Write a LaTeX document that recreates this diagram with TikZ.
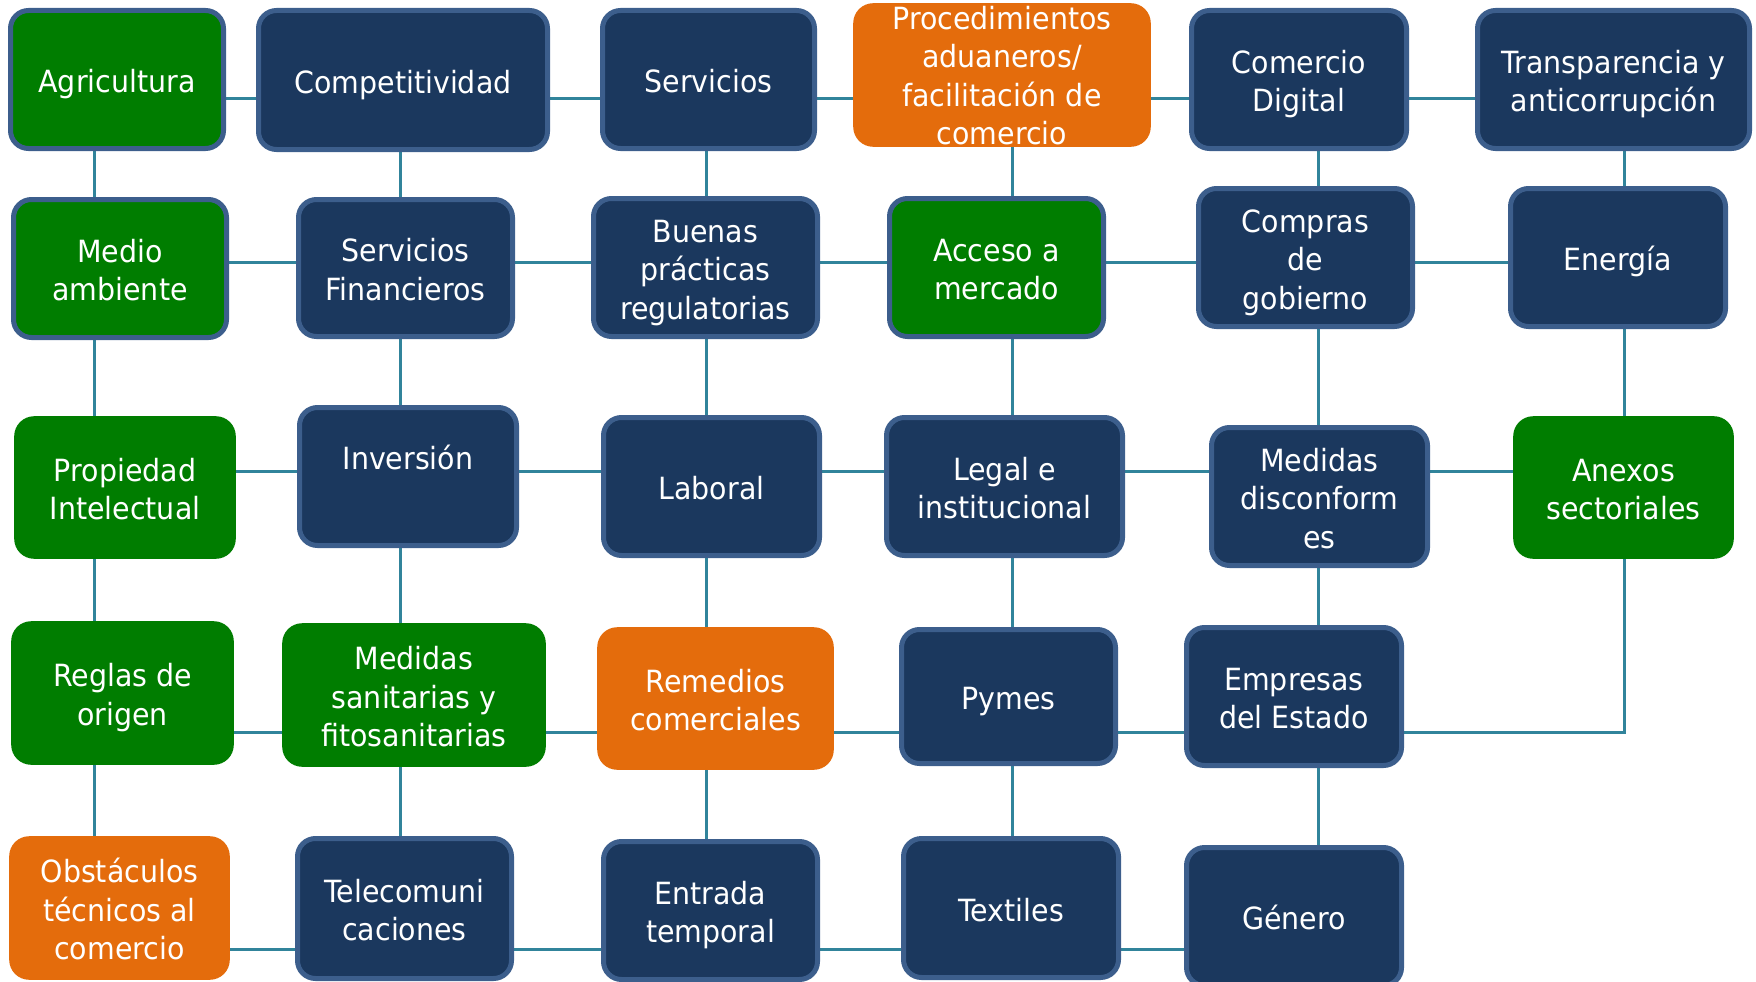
\documentclass[tikz,border=0pt]{standalone}
\usepackage{fontspec}
\setmainfont[FakeStretch=0.93]{DejaVu Sans}
\usetikzlibrary{backgrounds}
\definecolor{navy}{RGB}{27,56,94}
\definecolor{bord}{RGB}{60,94,140}
\definecolor{grn}{RGB}{0,125,0}
\definecolor{orng}{RGB}{228,108,12}
\definecolor{conn}{RGB}{49,132,155}
\tikzset{
  nbox/.style={fill=navy, draw=bord, line width=5pt, rounded corners=18pt},
  gbbox/.style={fill=grn, draw=bord, line width=5pt, rounded corners=18pt},
  gbox/.style={fill=grn, rounded corners=20pt},
  obox/.style={fill=orng, rounded corners=20pt},
  txt/.style={text=white, align=center, inner sep=0pt, font=\fontsize{30.6}{38.5}\selectfont},
  link/.style={draw=conn, line width=3pt}
}
\newcommand\nl{\strut\\\strut}
\newcommand\tbox[8]{%
  \node[#2, inner sep=0pt, minimum width={#5-#3-\pgflinewidth}, minimum height={#6-#4-\pgflinewidth}] (#1) at ({(#3+#5)/2},{(#4+#6)/2}) {};
  \node[txt] (#1-t) at ([yshift=#8-5.4pt]#1.center) {\strut #7\strut};}
\begin{document}
\begin{tikzpicture}[x=1pt,y=-1pt]
\useasboundingbox (0,0) rectangle (1756,982);
\clip (0,0) rectangle (1756,982);
\coordinate (r1) at (0,98);
\coordinate (r2) at (0,262);
\coordinate (r3) at (0,471);
\coordinate (r4) at (0,732);
\coordinate (r5) at (0,949);
\coordinate (c1) at (94.5,0);
\coordinate (c2) at (400.5,0);
\coordinate (c3) at (706.5,0);
\coordinate (c4) at (1012,0);
\coordinate (c5) at (1318,0);
\coordinate (c6) at (1624,0);
% row 1
\tbox{agri}{gbbox}{8}{8}{226}{151}{Agricultura}{0pt}
\tbox{comp}{nbox}{256}{8}{550}{152}{Competitividad}{0pt}
\tbox{serv}{nbox}{600}{8}{817}{151}{Servicios}{0pt}
\tbox{proc}{obox}{853}{3}{1151}{147}{Procedimientos\nl aduaneros/\nl facilitación de\nl comercio}{1pt}
\tbox{cdig}{nbox}{1189}{8}{1409}{151}{Comercio\nl Digital}{0pt}
\tbox{trans}{nbox}{1475}{8}{1752}{151}{Transparencia y\nl anticorrupción}{0pt}
% row 2
\tbox{medio}{gbbox}{11}{197}{229}{340}{Medio\nl ambiente}{0pt}
\tbox{sfin}{nbox}{296}{197}{515}{339}{Servicios\nl Financieros}{0pt}
\tbox{buenas}{nbox}{591}{196}{820}{339}{Buenas\nl prácticas\nl regulatorias}{0pt}
\tbox{acceso}{gbbox}{887}{196}{1106}{339}{Acceso a\nl mercado}{0pt}
\tbox{compras}{nbox}{1196}{186}{1415}{329}{Compras\nl de\nl gobierno}{0pt}
\tbox{energia}{nbox}{1508}{186}{1728}{329}{Energía}{0pt}
% row 3
\tbox{prop}{gbox}{14}{416}{236}{559}{Propiedad\nl Intelectual}{0pt}
\tbox{inv}{nbox}{297}{405}{519}{548}{Inversión}{20pt}
\tbox{lab}{nbox}{601}{415}{822}{558}{Laboral}{0pt}
\tbox{legal}{nbox}{884}{415}{1125}{558}{Legal e\nl institucional}{0pt}
\tbox{disc}{nbox}{1209}{425}{1430}{568}{Medidas\nl disconform\nl es}{0pt}
\tbox{anex}{gbox}{1513}{416}{1734}{559}{Anexos\nl sectoriales}{0pt}
% row 4
\tbox{reglas}{gbox}{11}{621}{234}{765}{Reglas de\nl origen}{0pt}
\tbox{msf}{gbox}{282}{623}{546}{767}{Medidas\nl sanitarias y\nl fitosanitarias}{0pt}
\tbox{remed}{obox}{597}{627}{834}{770}{Remedios\nl comerciales}{0pt}
\tbox{pymes}{nbox}{899}{627}{1118}{766}{Pymes}{0pt}
\tbox{empr}{nbox}{1184}{625}{1404}{768}{Empresas\nl del Estado}{0pt}
% row 5
\tbox{obst}{obox}{9}{836}{230}{980}{Obstáculos\nl técnicos al\nl comercio}{0pt}
\tbox{tele}{nbox}{295}{836}{514}{981}{Telecomuni\nl caciones}{0pt}
\tbox{entr}{nbox}{601}{839}{820}{982}{Entrada\nl temporal}{0pt}
\tbox{text}{nbox}{901}{836}{1121}{980}{Textiles}{0pt}
\tbox{gen}{nbox}{1184}{845}{1404}{988}{Género}{0pt}
\begin{scope}[on background layer]
\foreach \a/\b in {agri/comp,comp/serv,serv/proc,proc/cdig,cdig/trans}
  \draw[link] (\a |- r1) -- (\b |- r1);
\foreach \a/\b in {medio/sfin,sfin/buenas,buenas/acceso,acceso/compras,compras/energia}
  \draw[link] (\a |- r2) -- (\b |- r2);
\foreach \a/\b in {prop/inv,inv/lab,lab/legal,legal/disc,disc/anex}
  \draw[link] (\a |- r3) -- (\b |- r3);
\foreach \a/\b in {reglas/msf,msf/remed,remed/pymes,pymes/empr}
  \draw[link] (\a |- r4) -- (\b |- r4);
\draw[link] (empr |- r4) -| (c6 |- anex);
\foreach \a/\b in {obst/tele,tele/entr,entr/text,text/gen}
  \draw[link] (\a |- r5) -- (\b |- r5);
\foreach \a/\b in {agri/medio,medio/prop,prop/reglas,reglas/obst}
  \draw[link] (c1 |- \a) -- (c1 |- \b);
\foreach \a/\b in {comp/sfin,sfin/inv,inv/msf,msf/tele}
  \draw[link] (c2 |- \a) -- (c2 |- \b);
\foreach \a/\b in {serv/buenas,buenas/lab,lab/remed,remed/entr}
  \draw[link] (c3 |- \a) -- (c3 |- \b);
\foreach \a/\b in {proc/acceso,acceso/legal,legal/pymes,pymes/text}
  \draw[link] (c4 |- \a) -- (c4 |- \b);
\foreach \a/\b in {cdig/compras,compras/disc,disc/empr,empr/gen}
  \draw[link] (c5 |- \a) -- (c5 |- \b);
\foreach \a/\b in {trans/energia,energia/anex}
  \draw[link] (c6 |- \a) -- (c6 |- \b);
\end{scope}
\end{tikzpicture}
\end{document}
